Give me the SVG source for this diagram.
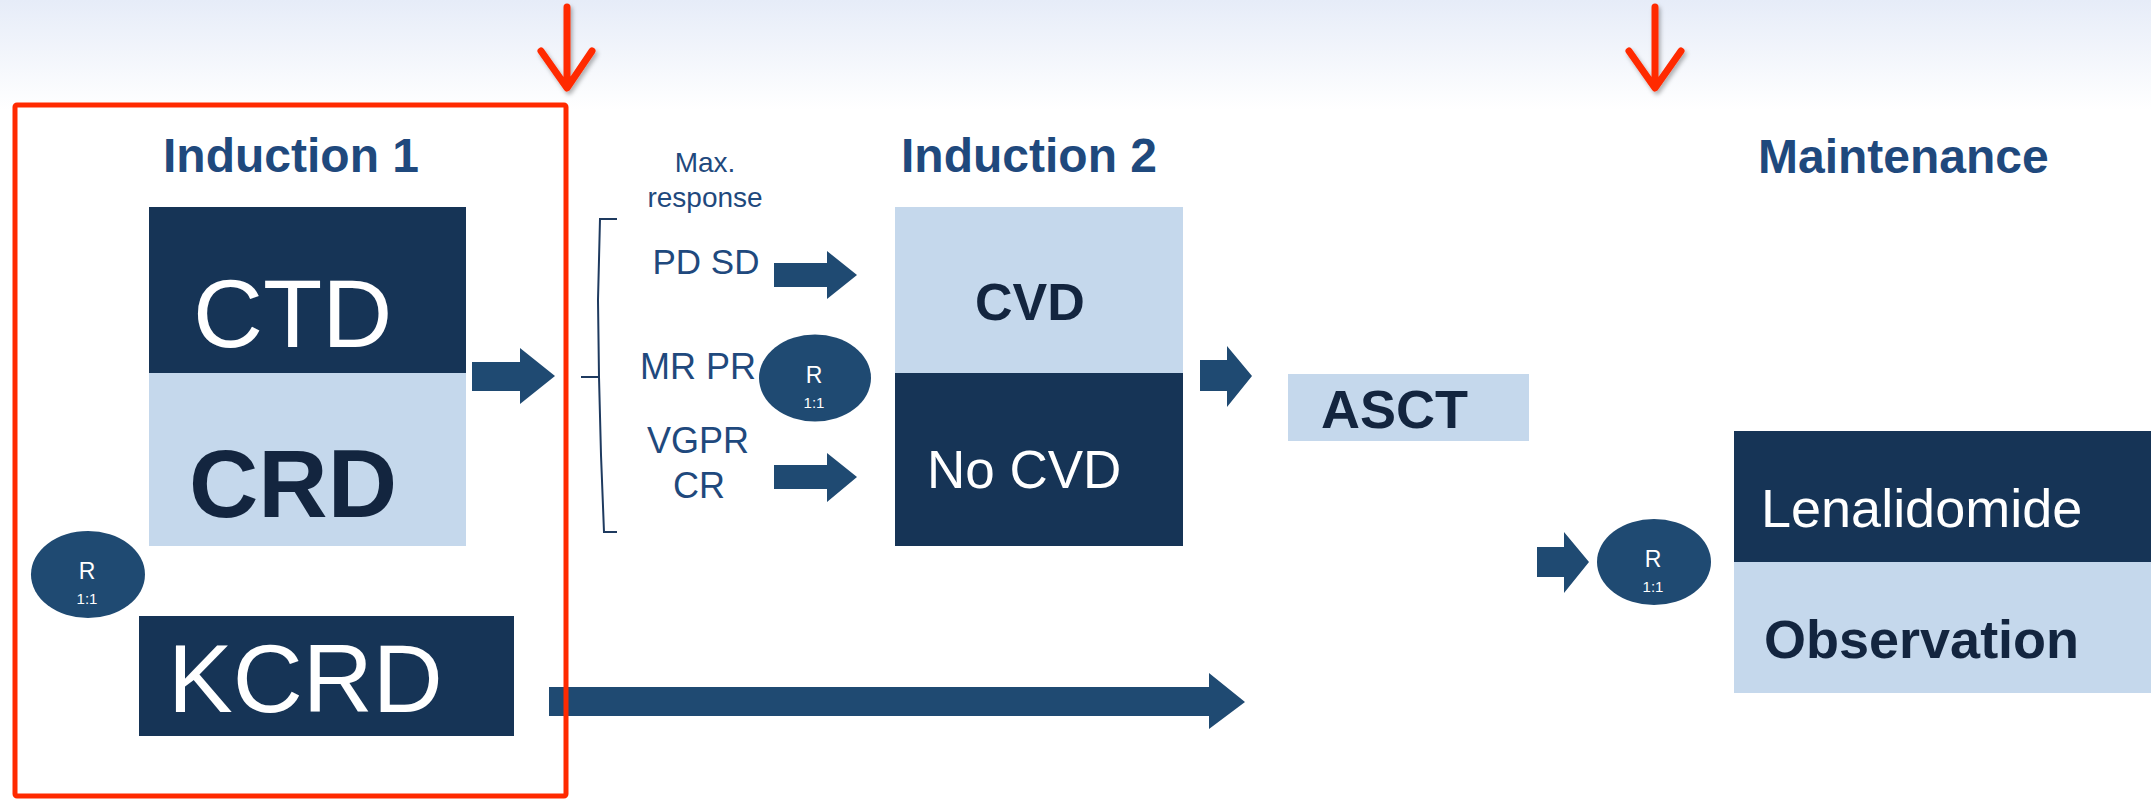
<svg xmlns="http://www.w3.org/2000/svg" width="2151" height="801" viewBox="0 0 2151 801">
<defs>
<linearGradient id="bg" x1="0" y1="0" x2="0" y2="1">
<stop offset="0" stop-color="#E6ECF8"/>
<stop offset="1" stop-color="#FFFFFF"/>
</linearGradient>
<filter id="sh" x="-50%" y="-20%" width="200%" height="160%">
<feDropShadow dx="2" dy="3" stdDeviation="2" flood-color="#000" flood-opacity="0.3"/>
</filter>
</defs>
<style>
.hd{font-family:"Liberation Sans",Arial,sans-serif;font-weight:bold;fill:#1F497D}
.big{font-family:"Liberation Sans",Arial,sans-serif}
.wt{fill:#FFFFFF}
.dk{fill:#13253F;font-weight:bold}
.lbl{font-family:"Liberation Sans",Arial,sans-serif;fill:#1F497D}
.dark{fill:#163456}
.light{fill:#C5D8EC}
.arr{fill:#1F4A72}
.rnd{fill:#1F4A72}
.rt{font-family:"Liberation Sans",Arial,sans-serif;fill:#FFFFFF;text-anchor:middle}
.red{fill:none;stroke:#FF2A00;stroke-width:7;stroke-linecap:round;stroke-linejoin:round}
</style>
<rect x="0" y="0" width="2151" height="801" fill="#FFFFFF"/>
<rect x="0" y="0" width="2151" height="110" fill="url(#bg)"/>

<g id="induction1-title"><text class="hd" x="163" y="172" font-size="48">Induction 1</text></g>
<g id="induction2-title"><text class="hd" x="901" y="172" font-size="48">Induction 2</text></g>
<g id="maintenance-title"><text class="hd" x="1758" y="173" font-size="48">Maintenance</text></g>

<g id="ctd"><rect class="dark" x="149" y="207" width="317" height="166"/><text class="big wt" x="193" y="347" font-size="97">CTD</text></g>
<g id="crd"><rect class="light" x="149" y="373" width="317" height="173"/><text class="big dk" x="189" y="517" font-size="96">CRD</text></g>
<g id="r1"><ellipse class="rnd" cx="88" cy="574.5" rx="57" ry="43.5"/><text class="rt" x="87" y="579" font-size="23">R</text><text class="rt" x="87" y="604" font-size="15">1:1</text></g>
<g id="kcrd"><rect class="dark" x="139" y="616" width="375" height="120"/><text class="big wt" x="168" y="712" font-size="97">KCRD</text></g>

<g id="response-labels">
<text class="lbl" x="705" y="172" font-size="28" text-anchor="middle">Max.</text>
<text class="lbl" x="705" y="207" font-size="28" text-anchor="middle">response</text>
<text class="lbl" x="706" y="274" font-size="35" text-anchor="middle">PD SD</text>
<text class="lbl" x="640" y="379" font-size="36">MR PR</text>
<text class="lbl" x="698" y="453" font-size="36" text-anchor="middle">VGPR</text>
<text class="lbl" x="699" y="498" font-size="36" text-anchor="middle">CR</text>
</g>
<g id="r2"><ellipse class="rnd" cx="815" cy="378" rx="56" ry="43.5"/><text class="rt" x="814" y="383" font-size="23">R</text><text class="rt" x="814" y="408" font-size="15">1:1</text></g>

<g id="cvd"><rect class="light" x="895" y="207" width="288" height="166"/><text class="big dk" x="975" y="320" font-size="52">CVD</text></g>
<g id="nocvd"><rect class="dark" x="895" y="373" width="288" height="173"/><text class="big wt" x="927" y="488" font-size="53">No CVD</text></g>

<g id="asct"><rect class="light" x="1288" y="374" width="241" height="67"/><text class="big dk" x="1321" y="428" font-size="54">ASCT</text></g>
<g id="r3"><ellipse class="rnd" cx="1654" cy="562" rx="57" ry="43"/><text class="rt" x="1653" y="567" font-size="23">R</text><text class="rt" x="1653" y="592" font-size="15">1:1</text></g>
<g id="lenalidomide"><rect class="dark" x="1734" y="431" width="417" height="131"/><text class="big wt" x="1761" y="527" font-size="54">Lenalidomide</text></g>
<g id="observation"><rect class="light" x="1734" y="562" width="417" height="131"/><text class="big dk" x="1764" y="658" font-size="54">Observation</text></g>

<g id="connectors">
<path class="arr" d="M472,362 H520 V348 L555,376 L520,404 V391 H472 Z"/>
<path d="M617,219 H600 L598,300 L599,377 H581 M599,377 L601,455 L604,532 H617" fill="none" stroke="#1E3A5F" stroke-width="2"/>
<path class="arr" d="M774,263 H827 V251 L857,275 L827,299 V287 H774 Z"/>
<path class="arr" d="M774,465 H827 V453 L857,477 L827,502 V489 H774 Z"/>
<path class="arr" d="M1200,360 H1227 V346 L1252,376 L1227,407 V391 H1200 Z"/>
<path class="arr" d="M1537,547 H1564 V532 L1589,562 L1564,593 V577 H1537 Z"/>
<path class="arr" d="M549,687 H1209 V673 L1245,702 L1209,729 V716 H549 Z"/>
</g>

<g id="induction1-frame">
<rect x="15" y="105" width="551" height="691" rx="2" fill="none" stroke="#FF2A00" stroke-width="5"/>
</g>
<g id="red-arrows" filter="url(#sh)">
<path class="red" d="M567,7 V86 M541,51 L567,88 L592,51"/>
<path class="red" d="M1655,7 V86 M1629,51 L1655,88 L1681,51"/>
</g>
</svg>
